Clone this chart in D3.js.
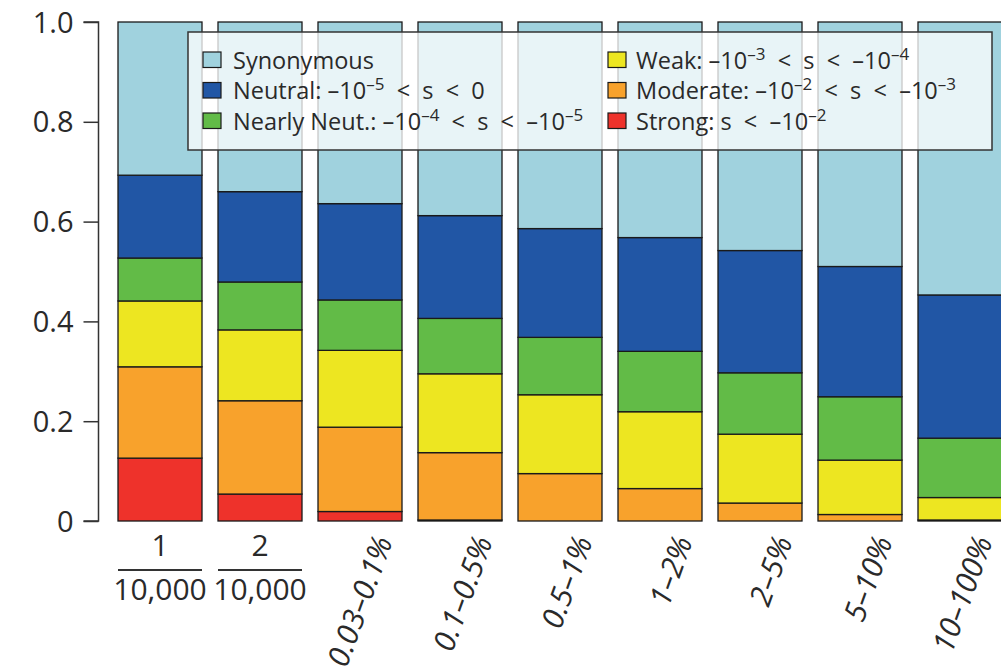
<!DOCTYPE html>
<html>
<head>
<meta charset="utf-8">
<script src="https://cdn.jsdelivr.net/npm/d3@7/dist/d3.min.js"></script>
<style>
  html, body { margin: 0; padding: 0; background: #fff; }
  svg { display: block; font-family: "Open Sans", "Noto Sans", sans-serif; }
</style>
</head>
<body>
<svg id="chart" width="1001" height="670"></svg>
<script>
// ---- Data ----
const categories = ["1/10,000", "2/10,000", "0.03–0.1%", "0.1–0.5%", "0.5–1%", "1–2%", "2–5%", "5–10%", "10–100%"];
const seriesKeys = ["Strong", "Moderate", "Weak", "NearlyNeutral", "Neutral", "Synonymous"];
const strong        = [0.126, 0.054, 0.019, 0.002, 0.000, 0.000, 0.000, 0.000, 0.000];
const moderate      = [0.183, 0.187, 0.169, 0.135, 0.095, 0.065, 0.036, 0.013, 0.002];
const weak          = [0.132, 0.142, 0.154, 0.158, 0.158, 0.154, 0.138, 0.109, 0.045];
const nearlyNeutral = [0.086, 0.096, 0.101, 0.111, 0.115, 0.121, 0.123, 0.127, 0.119];
const neutral       = [0.166, 0.181, 0.193, 0.206, 0.218, 0.228, 0.245, 0.261, 0.287];
const synonymous    = [0.307, 0.340, 0.364, 0.388, 0.414, 0.432, 0.458, 0.490, 0.547];
const yTicks = [0, 0.2, 0.4, 0.6, 0.8, 1.0];
const yTickLabels = ["0", "0.2", "0.4", "0.6", "0.8", "1.0"];
const colors = {
  Synonymous: "#a0d2de", Neutral: "#2156a5", NearlyNeutral: "#62bb47",
  Weak: "#ede621", Moderate: "#f8a22c", Strong: "#ee322b"
};
// legend entries: [key, label parts] ; parts: [text, isSuperscript]
const legendEntries = [
  ["Synonymous",    [["Synonymous", false]]],
  ["Neutral",       [["Neutral: –10", false], ["–5", true], ["  <  s  <  0", false]]],
  ["NearlyNeutral", [["Nearly Neut.: –10", false], ["–4", true], ["  <  s  <  –10", false], ["–5", true]]],
  ["Weak",          [["Weak: –10", false], ["–3", true], ["  <  s  <  –10", false], ["–4", true]]],
  ["Moderate",      [["Moderate: –10", false], ["–2", true], ["  <  s  <  –10", false], ["–3", true]]],
  ["Strong",        [["Strong: s  <  –10", false], ["–2", true]]]
];

// ---- Build table ----
const seriesArrays = { Strong: strong, Moderate: moderate, Weak: weak, NearlyNeutral: nearlyNeutral, Neutral: neutral, Synonymous: synonymous };
const table = categories.map((c, i) => {
  const row = { cat: c };
  seriesKeys.forEach(k => row[k] = seriesArrays[k][i]);
  return row;
});
const stacked = d3.stack().keys(seriesKeys)(table);

const svg = d3.select("#chart");
const x = d3.scaleBand().domain(categories).range([110, 1010]).paddingInner(0.16).paddingOuter(0.08);
const y = d3.scaleLinear().domain([0, 1]).range([521, 22]);

const textColor = "#2a2a2a";

// bars
svg.append("g").selectAll("g").data(stacked).join("g")
  .attr("fill", d => colors[d.key])
  .selectAll("rect").data(d => d).join("rect")
  .attr("x", d => x(d.data.cat))
  .attr("width", x.bandwidth())
  .attr("y", d => y(d[1]))
  .attr("height", d => y(d[0]) - y(d[1]))
  .attr("stroke", "#1a1a1a")
  .attr("stroke-width", 1.3);

// y axis
const yAxis = d3.axisLeft(y).tickValues(yTicks).tickFormat((d, i) => yTickLabels[i]).tickSize(15).tickPadding(10);
const gy = svg.append("g").attr("transform", "translate(98.5,0)").call(yAxis);
gy.select(".domain").attr("stroke", "#333").attr("stroke-width", 1.5).attr("d", `M-15,${y(1)}H0V${y(0)}H-15`);
gy.selectAll(".tick line").attr("stroke", "#333").attr("stroke-width", 1.5);
gy.selectAll(".tick text").attr("font-size", 29).attr("fill", textColor).attr("font-family", "Open Sans").attr("dy", "0.35em");

// x labels
const xl = svg.append("g");
categories.forEach((c, i) => {
  const cx = x(c) + x.bandwidth() / 2;
  if (c.includes("/")) {
    const [num, den] = c.split("/");
    xl.append("text").attr("x", cx).attr("y", 556).attr("text-anchor", "middle")
      .attr("font-size", 30).attr("fill", textColor).text(num);
    xl.append("line").attr("x1", x(c)).attr("x2", x(c) + x.bandwidth())
      .attr("y1", 570).attr("y2", 570).attr("stroke", "#333").attr("stroke-width", 1.8);
    xl.append("text").attr("x", cx).attr("y", 600).attr("text-anchor", "middle")
      .attr("font-size", 30).attr("fill", textColor).text(den);
  } else {
    xl.append("text")
      .attr("transform", `translate(${cx + 33},${541}) rotate(-70)`)
      .attr("text-anchor", "end")
      .attr("font-size", 30).attr("font-style", "italic").attr("fill", textColor)
      .text(c);
  }
});

// legend
const lg = svg.append("g");
lg.append("rect").attr("x", 188).attr("y", 32).attr("width", 804).attr("height", 118)
  .attr("fill", "#ffffff").attr("fill-opacity", 0.76).attr("stroke", "#333").attr("stroke-width", 1.5);
legendEntries.forEach((e, i) => {
  const col = Math.floor(i / 3), row = i % 3;
  const sx = col === 0 ? 203 : 608;
  const tx = col === 0 ? 233 : 636;
  const base = 68.5 + row * 30.5;
  lg.append("rect").attr("x", sx).attr("y", base - 16.5).attr("width", 18).attr("height", 15.5)
    .attr("fill", colors[e[0]]).attr("stroke", "#1a1a1a").attr("stroke-width", 1.2);
  const t = lg.append("text").attr("x", tx).attr("y", base).attr("font-size", 23.5)
    .attr("fill", textColor).attr("xml:space", "preserve").style("white-space", "pre");
  e[1].forEach(p => {
    const ts = t.append("tspan").text(p[0]);
    if (p[1]) ts.attr("font-size", 17).attr("baseline-shift", "9px");
  });
});
</script>
</body>
</html>
